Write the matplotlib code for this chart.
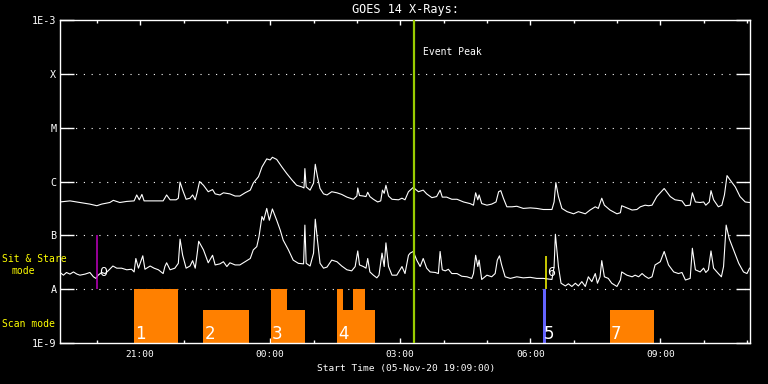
import numpy as np
import matplotlib
matplotlib.use("Agg")
import matplotlib.pyplot as plt
from matplotlib.ticker import FixedLocator, NullLocator
import matplotlib.transforms as mtransforms

plt.rcParams['font.family'] = ['DejaVu Sans Mono', 'DejaVu Sans']

# ---------------- data (time in hours after 05-Nov-20 00:00 UT) ----------------
long_t = [19.15,19.38,19.61,19.84,20.00,20.11,20.30,20.38,20.53,20.69,20.86,20.92,20.98,21.04,21.09,
          21.23,21.38,21.53,21.61,21.69,21.83,21.88,21.92,21.98,22.06,22.15,22.21,22.27,22.31,22.37,
          22.46,22.57,22.67,22.73,22.84,22.92,23.07,23.19,
          23.30,23.42,23.54,23.61,23.73,23.81,23.92,24.00,24.05,24.15,24.27,24.38,24.50,24.61,24.73,
          24.78,24.80,24.83,24.92,25.00,25.04,25.09,25.15,25.23,25.31,25.42,25.54,25.65,25.77,25.92,
          26.00,26.02,26.06,26.15,26.21,26.25,26.30,26.38,26.48,26.55,26.59,26.63,26.67,26.73,26.81,
          26.96,27.04,27.11,27.19,
          27.23,27.30,27.42,27.53,27.61,27.73,27.84,27.92,27.97,28.07,28.19,28.31,28.46,28.61,28.69,
          28.74,28.79,28.82,28.88,29.00,29.11,29.21,29.27,29.32,29.38,29.46,29.58,29.69,29.84,30.00,
          30.15,30.30,30.50,30.55,30.59,30.65,30.73,30.85,31.00,31.11,31.27,
          31.38,31.50,31.57,31.65,31.71,31.84,32.00,32.08,32.11,32.23,32.35,32.46,32.54,32.65,32.73,
          32.81,32.92,33.09,33.23,33.34,33.50,33.58,33.69,33.74,33.81,33.92,34.00,34.05,34.13,34.17,
          34.23,34.34,34.42,34.48,34.54,34.61,34.73,34.84,34.96,35.06]
long_log_flux = [-6.38,-6.36,-6.39,-6.42,-6.45,-6.42,-6.39,-6.35,-6.39,-6.37,-6.36,-6.25,-6.34,-6.24,-6.36,
                 -6.36,-6.36,-6.36,-6.25,-6.34,-6.34,-6.31,-6.01,-6.16,-6.33,-6.31,-6.25,-6.34,-6.22,-6.00,
                 -6.07,-6.19,-6.15,-6.23,-6.25,-6.21,-6.23,-6.27,
                 -6.27,-6.21,-6.16,-6.03,-5.91,-5.73,-5.58,-5.60,-5.55,-5.59,-5.73,-5.85,-5.97,-6.07,-6.10,
                 -6.12,-5.76,-6.10,-6.16,-6.03,-5.68,-5.91,-6.13,-6.23,-6.25,-6.19,-6.21,-6.24,-6.29,-6.33,
                 -6.27,-6.12,-6.26,-6.27,-6.28,-6.20,-6.28,-6.33,-6.38,-6.36,-6.16,-6.22,-6.07,-6.27,-6.33,
                 -6.34,-6.31,-6.34,-6.19,
                 -6.16,-6.11,-6.19,-6.16,-6.23,-6.30,-6.28,-6.16,-6.29,-6.29,-6.33,-6.33,-6.38,-6.41,-6.44,
                 -6.21,-6.34,-6.25,-6.41,-6.44,-6.42,-6.38,-6.19,-6.17,-6.31,-6.47,-6.47,-6.46,-6.50,-6.49,
                 -6.50,-6.52,-6.52,-6.38,-6.02,-6.28,-6.50,-6.56,-6.60,-6.56,-6.60,
                 -6.53,-6.47,-6.50,-6.31,-6.44,-6.53,-6.60,-6.58,-6.45,-6.49,-6.53,-6.52,-6.47,-6.44,-6.45,
                 -6.44,-6.28,-6.13,-6.28,-6.34,-6.36,-6.45,-6.44,-6.21,-6.38,-6.39,-6.38,-6.44,-6.38,-6.17,
                 -6.34,-6.47,-6.44,-6.25,-5.89,-5.97,-6.10,-6.28,-6.38,-6.39]

short_t = [19.15,19.23,19.30,19.38,19.46,19.54,19.61,19.73,19.84,19.92,19.98,20.03,20.11,20.19,20.26,
           20.37,20.46,20.57,20.69,20.80,20.86,20.90,20.96,21.00,21.06,21.11,21.23,21.32,21.42,21.53,
           21.57,21.61,21.69,21.80,21.88,21.92,21.98,22.06,22.15,22.21,22.27,22.31,22.35,22.46,22.57,
           22.67,22.73,22.84,22.92,23.00,23.07,23.19,
           23.30,23.42,23.54,23.61,23.69,23.74,23.81,23.85,23.92,23.98,24.05,24.15,24.23,24.30,24.42,
           24.53,24.65,24.77,24.80,24.83,24.92,25.00,25.04,25.09,25.15,25.23,25.31,25.42,25.54,25.65,
           25.77,25.88,25.96,26.02,26.06,26.15,26.21,26.25,26.30,26.38,26.46,26.51,26.58,26.63,26.67,
           26.73,26.81,26.92,27.04,27.11,27.19,
           27.23,27.30,27.38,27.46,27.53,27.61,27.69,27.81,27.88,27.92,27.97,28.04,28.11,28.19,28.31,
           28.42,28.54,28.65,28.69,28.74,28.79,28.82,28.88,29.00,29.11,29.19,29.24,29.29,29.34,29.42,
           29.54,29.69,29.84,30.00,30.15,30.30,30.50,30.55,30.58,30.65,30.71,30.81,30.88,30.96,31.04,
           31.11,31.19,31.27,
           31.34,31.42,31.50,31.55,31.61,31.65,31.71,31.80,31.88,32.00,32.08,32.11,32.23,32.35,32.42,
           32.50,32.58,32.65,32.73,32.81,32.88,33.00,33.09,33.19,33.31,33.42,33.50,33.58,33.69,33.74,
           33.81,33.92,34.00,34.05,34.11,34.17,34.23,34.34,34.41,34.46,34.52,34.59,34.69,34.81,34.92,
           35.00,35.06]
short_log_flux = [-7.69,-7.74,-7.69,-7.72,-7.68,-7.72,-7.74,-7.72,-7.69,-7.77,-7.80,-7.74,-7.69,-7.71,-7.66,
                  -7.57,-7.61,-7.61,-7.64,-7.63,-7.68,-7.43,-7.61,-7.52,-7.38,-7.63,-7.57,-7.61,-7.64,-7.71,
                  -7.58,-7.51,-7.64,-7.61,-7.52,-7.07,-7.37,-7.61,-7.57,-7.47,-7.61,-7.37,-7.11,-7.27,-7.51,
                  -7.37,-7.55,-7.53,-7.49,-7.58,-7.51,-7.55,
                  -7.55,-7.49,-7.43,-7.27,-7.21,-7.03,-6.65,-6.72,-6.50,-6.72,-6.51,-6.72,-6.90,-7.09,-7.27,
                  -7.46,-7.52,-7.53,-6.81,-7.52,-7.57,-7.33,-6.70,-7.09,-7.52,-7.61,-7.59,-7.46,-7.49,-7.57,
                  -7.64,-7.66,-7.58,-7.29,-7.55,-7.58,-7.61,-7.43,-7.68,-7.74,-7.79,-7.74,-7.33,-7.58,-7.14,
                  -7.58,-7.74,-7.74,-7.58,-7.71,-7.37,
                  -7.33,-7.30,-7.46,-7.58,-7.43,-7.61,-7.68,-7.69,-7.71,-7.30,-7.64,-7.66,-7.63,-7.71,-7.71,
                  -7.76,-7.77,-7.80,-7.71,-7.37,-7.58,-7.46,-7.82,-7.74,-7.77,-7.71,-7.46,-7.38,-7.55,-7.77,
                  -7.80,-7.77,-7.79,-7.78,-7.80,-7.80,-7.82,-7.58,-6.98,-7.58,-7.89,-7.94,-7.90,-7.95,-7.89,
                  -7.94,-7.86,-7.95,
                  -7.77,-7.86,-7.71,-7.89,-7.77,-7.47,-7.77,-7.80,-7.89,-7.95,-7.83,-7.68,-7.74,-7.77,-7.74,
                  -7.77,-7.71,-7.76,-7.80,-7.77,-7.55,-7.49,-7.30,-7.55,-7.68,-7.71,-7.69,-7.83,-7.80,-7.24,
                  -7.64,-7.68,-7.61,-7.69,-7.64,-7.29,-7.61,-7.71,-7.77,-7.58,-6.81,-7.06,-7.27,-7.52,-7.68,
                  -7.71,-7.61]

# scan-mode observation segments (start h, end h, level)
scan_start = [20.86, 22.46, 24.02, 24.39, 25.54, 25.69, 25.91, 26.19, 31.84]
scan_end   = [21.87, 23.51, 24.39, 24.80, 25.69, 25.91, 26.19, 26.42, 32.86]
scan_top   = [1e-8, 4.1e-9, 1e-8, 4.1e-9, 1e-8, 4.1e-9, 1e-8, 4.1e-9, 4.1e-9]
scan_label_t = [20.86, 22.46, 24.02, 25.54, 30.30, 31.84]
scan_labels  = ['1', '2', '3', '4', '5', '7']
blue_scan = (30.30, 30.37)

sit_t = [20.01, 30.36]
sit_bottom = [1e-8, 1e-8]
sit_top = [1e-7, 4.2e-8]
sit_colors = ['#c000c0', '#ffff00']
sit_labels = ['0', '6']

peak_time = 27.31

ytick_vals = [1e-9, 1e-8, 1e-7, 1e-6, 1e-5, 1e-4, 1e-3]
ytick_labels = ['1E-9', 'A', 'B', 'C', 'M', 'X', '1E-3']
xtick_vals = [21, 24, 27, 30, 33]
xtick_labels = ['21:00', '00:00', '03:00', '06:00', '09:00']
x_start, x_end = 19.15, 35.07

# ---------------- figure ----------------
W, H = 768, 384
fig = plt.figure(figsize=(W/100, H/100), dpi=100, facecolor='black')
ax = fig.add_axes([60/W, 41/H, 690/W, 323/H])
ax.set_facecolor('black')
ax.set_yscale('log')
ax.set_xlim(x_start, x_end)
ax.set_ylim(1e-9, 1e-3)

for lev in ytick_vals[1:-1]:
    ax.axhline(lev, color='white', lw=0.8, ls=(0, (1, 6)), zorder=1)

# scan bars
for s, e, t in zip(scan_start, scan_end, scan_top):
    ax.bar(s, t - 1e-9, width=e - s, bottom=1e-9, align='edge', color='#ff8000', lw=0, zorder=2)
ax.bar(blue_scan[0], 1e-8 - 1e-9, width=blue_scan[1] - blue_scan[0], bottom=1e-9, align='edge',
       color='#6464ff', lw=0, zorder=2)
for t, lab in zip(scan_label_t, scan_labels):
    ax.text(t + 0.02, 1.17e-9, lab, color='white', fontsize=12, ha='left', va='baseline',
            family='DejaVu Sans', zorder=5)

# curves
ax.plot(long_t, 10**np.array(long_log_flux), color='white', lw=0.8, zorder=3)
ax.plot(short_t, 10**np.array(short_log_flux), color='white', lw=0.8, zorder=3)

# sit & stare markers
for t, b, tp, c, lab in zip(sit_t, sit_bottom, sit_top, sit_colors, sit_labels):
    ax.vlines(t, b, tp, color=c, lw=1.1, zorder=4)
    ax.text(t + 0.04, 2.0e-8, lab, color='white', fontsize=9, ha='left', va='center',
            family='DejaVu Sans', zorder=5)

# event peak
ax.axvline(peak_time, color='#99cc00', lw=1.6, zorder=4)
ax.annotate('Event Peak', xy=(peak_time, 1.0), xycoords=('data', 'axes fraction'),
            xytext=(7, -23), textcoords='offset points', color='white', fontsize=7,
            ha='left', va='center')

# axes styling
for sp in ax.spines.values():
    sp.set_color('white')
    sp.set_linewidth(1)
ax.set_yticks(ytick_vals)
ax.set_yticklabels(ytick_labels)
ax.yaxis.set_minor_locator(NullLocator())
ax.tick_params(axis='y', which='major', direction='in', length=10, width=1, colors='white',
               left=True, right=True, labelsize=7.3, pad=2.5)
ax.set_xticks(xtick_vals)
ax.set_xticklabels(xtick_labels)
ax.xaxis.set_minor_locator(FixedLocator(list(range(20, 36))))
ax.tick_params(axis='x', which='major', direction='in', length=3.5, width=1, colors='white',
               top=True, bottom=True, labelsize=6.8, pad=5)
ax.tick_params(axis='x', which='minor', direction='in', length=2, width=1, colors='white',
               top=True, bottom=True)

fig.text(405/W, 1 - 10/H, 'GOES 14 X-Rays:', color='white', fontsize=8.6, ha='center', va='center')
fig.text(406/W, 1 - 369/H, 'Start Time (05-Nov-20 19:09:00)', color='white', fontsize=6.8,
         ha='center', va='center')
fig.text(2/W, 1 - 259/H, 'Sit & Stare', color='#ffff00', fontsize=7, ha='left', va='center')
fig.text(12/W, 1 - 271/H, 'mode', color='#ffff00', fontsize=7, ha='left', va='center')
fig.text(2/W, 1 - 324/H, 'Scan mode', color='#ffff00', fontsize=7, ha='left', va='center')

fig.savefig('out.png', dpi=100, facecolor='black')
